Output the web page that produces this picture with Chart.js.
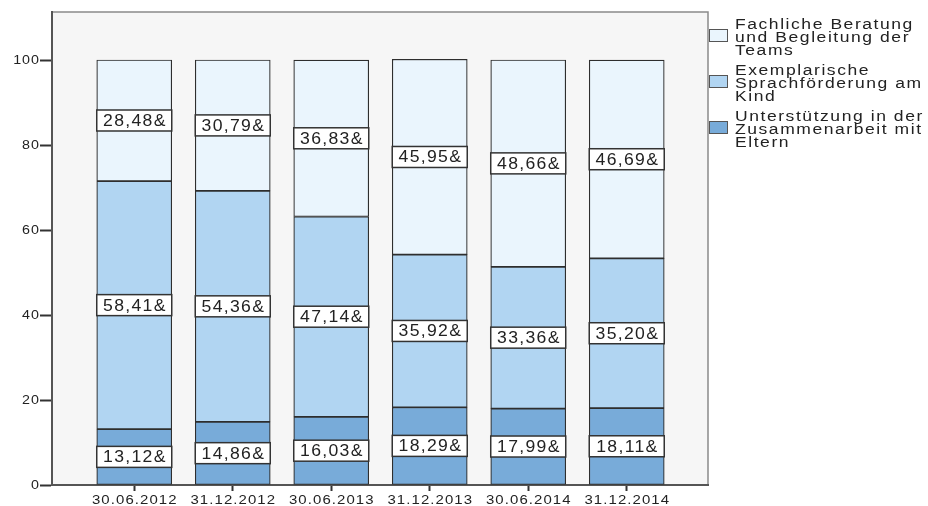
<!DOCTYPE html>
<html>
<head>
<meta charset="utf-8">
<script src="https://cdn.jsdelivr.net/npm/chart.js@4"></script>
<style>
  html, body { margin: 0; padding: 0; background: #fff; }
  #wrap { width: 928px; height: 506px; }
</style>
</head>
<body>
<div id="wrap"><canvas id="chart" width="928" height="506"></canvas></div>
<script>
// ===== DATA =====
const categories = ["30.06.2012", "31.12.2012", "30.06.2013", "31.12.2013", "30.06.2014", "31.12.2014"];
const elternValues = [13.12, 14.86, 16.03, 18.29, 17.99, 18.11];
const kindValues = [58.41, 54.36, 47.14, 35.92, 33.36, 35.20];
const teamsValues = [28.48, 30.79, 36.83, 45.95, 48.66, 46.69];
const seriesNames = [
    ["Unterstützung in der", "Zusammenarbeit mit", "Eltern"],
    ["Exemplarische", "Sprachförderung am", "Kind"],
    ["Fachliche Beratung", "und Begleitung der", "Teams"]
];
const seriesColors = ["#78abd9", "#b1d5f2", "#eaf5fd"];
const yTicks = [0, 20, 40, 60, 80, 100];

const FONT = "'Liberation Sans', Arial, sans-serif";

// the original text is stretched and spaced out, so draw it wide
function wideText(ctx, text, x, y, sx, spacing, align) {
    ctx.save();
    ctx.translate(x, y);
    ctx.scale(sx, 1);
    ctx.letterSpacing = spacing + "px";
    ctx.textAlign = align;
    // trailing spacing shifts centred / right text, undo it
    let dx = 0;
    if (align === "center") dx = spacing / 2;
    if (align === "right") dx = spacing;
    ctx.fillText(text, dx, 0);
    ctx.restore();
}

// ===== PLOT BACKGROUND =====
const plotBackground = {
    id: "plotBackground",
    beforeDraw(chart) {
        const { ctx, chartArea: a } = chart;
        ctx.save();
        ctx.fillStyle = "#f6f6f6";
        ctx.fillRect(a.left, a.top, a.right - a.left, a.bottom - a.top);
        ctx.strokeStyle = "#8a8a8a";
        ctx.lineWidth = 1.5;
        ctx.strokeRect(a.left, a.top, a.right - a.left, a.bottom - a.top);
        ctx.restore();
    }
};

// ===== TICK LABELS =====
const tickLabels = {
    id: "tickLabels",
    afterDraw(chart) {
        const ctx = chart.ctx;
        const xs = chart.scales.x;
        const ys = chart.scales.y;
        ctx.save();
        ctx.fillStyle = "#222";
        ctx.font = "13px " + FONT;
        ctx.textBaseline = "top";
        categories.forEach((c, i) => {
            wideText(ctx, c, xs.getPixelForValue(i), xs.top + 9, 1.15, 0.95, "center");
        });
        ctx.textBaseline = "middle";
        yTicks.forEach(v => {
            wideText(ctx, String(v), ys.right - 13, ys.getPixelForValue(v) + 0.5, 1.1, 0.9, "right");
        });
        ctx.restore();
    }
};

// ===== VALUE BOXES =====
const valueBoxes = {
    id: "valueBoxes",
    afterDatasetsDraw(chart) {
        const ctx = chart.ctx;
        ctx.save();
        ctx.font = "16px " + FONT;
        ctx.textBaseline = "middle";
        chart.data.datasets.forEach((ds, di) => {
            chart.getDatasetMeta(di).data.forEach((bar, i) => {
                const cy = (bar.y + bar.base) / 2;
                const w = bar.width;
                const h = 21;
                ctx.fillStyle = "#ffffff";
                ctx.fillRect(bar.x - w / 2, cy - h / 2, w, h);
                ctx.strokeStyle = "#333";
                ctx.lineWidth = 1.5;
                ctx.strokeRect(bar.x - w / 2, cy - h / 2, w, h);
                ctx.fillStyle = "#222";
                const txt = ds.data[i].y.toFixed(2).replace(".", ",") + "&";
                wideText(ctx, txt, bar.x, cy + 1, 1.1, 1.2, "center");
            });
        });
        ctx.restore();
    }
};

// ===== LEGEND =====
const sideLegend = {
    id: "sideLegend",
    afterDraw(chart) {
        const ctx = chart.ctx;
        const order = [2, 1, 0];
        ctx.save();
        ctx.font = "14px " + FONT;
        ctx.textBaseline = "middle";
        order.forEach((di, k) => {
            const ds = chart.data.datasets[di];
            const y0 = 25 + 46 * k;
            ctx.fillStyle = ds.backgroundColor;
            ctx.fillRect(709, y0 + 4, 19, 13);
            ctx.strokeStyle = "#555";
            ctx.lineWidth = 1;
            ctx.strokeRect(709.5, y0 + 4.5, 18, 12);
            ctx.fillStyle = "#222";
            ds.label.forEach((line, j) => {
                wideText(ctx, line, 735, y0 + 13.3 * j, 1.25, 1.25, "left");
            });
        });
        ctx.restore();
    }
};

// ===== CREATE CHART =====
const ctx = document.getElementById("chart").getContext("2d");

const datasetValues = [elternValues, kindValues, teamsValues];

const chart = new Chart(ctx, {
    type: "bar",
    data: {
        datasets: datasetValues.map((vals, di) => ({
            label: seriesNames[di],
            data: vals.map((v, i) => ({ x: i, y: v })),
            backgroundColor: seriesColors[di],
            borderColor: "#2e2e2e",
            borderWidth: 1.2,
            borderSkipped: false,
            barThickness: 75
        }))
    },
    options: {
        responsive: false,
        animation: false,
        devicePixelRatio: 1,
        layout: { padding: { top: 12, right: 220, left: 0, bottom: 0 } },
        plugins: {
            legend: { display: false },
            tooltip: { enabled: false }
        },
        scales: {
            x: {
                type: "linear",
                stacked: true,
                offset: false,
                min: -0.835,
                max: 5.825,
                afterFit: s => { s.height = 21; },
                afterBuildTicks: s => {
                    s.ticks = categories.map((c, i) => ({ value: i }));
                },
                ticks: { display: false },
                grid: { offset: false, drawOnChartArea: false, drawTicks: true, tickLength: 6, color: "#333", tickWidth: 2 },
                border: { color: "#555", width: 2 }
            },
            y: {
                stacked: true,
                min: 0,
                max: 111.3,
                afterFit: s => { s.width = 52; },
                afterBuildTicks: s => {
                    s.ticks = yTicks.map(v => ({ value: v }));
                },
                ticks: { display: false },
                grid: { drawOnChartArea: false, drawTicks: true, tickLength: 12, color: "#333", tickWidth: 2 },
                border: { color: "#555", width: 2 }
            }
        }
    },
    plugins: [plotBackground, valueBoxes, sideLegend, tickLabels]
});
</script>
</body>
</html>
